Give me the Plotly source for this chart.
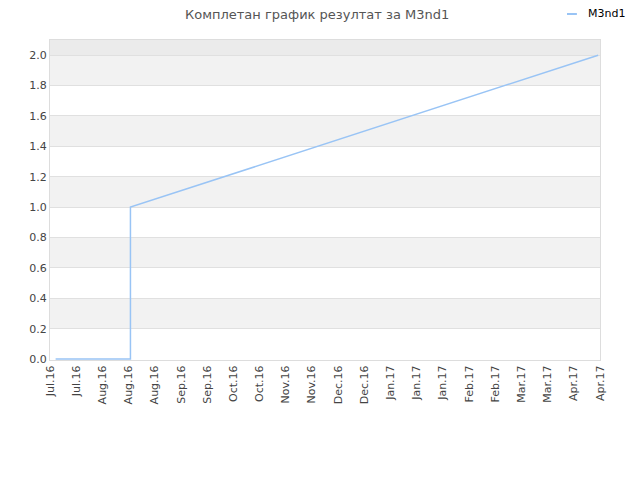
import plotly.graph_objects as go

# donnees
dates = ["2016-07-07", "2016-08-16", "2016-08-16", "2017-04-23"]
valeurs = [0, 0, 1.0, 2.0]

tick_dates = ["2016-07-04", "2016-07-18", "2016-08-01", "2016-08-15", "2016-08-29",
              "2016-09-12", "2016-09-26", "2016-10-10", "2016-10-24", "2016-11-07",
              "2016-11-21", "2016-12-05", "2016-12-19", "2017-01-02", "2017-01-16",
              "2017-01-30", "2017-02-13", "2017-02-27", "2017-03-13", "2017-03-27",
              "2017-04-10", "2017-04-24"]
tick_labels = ["Jul.16", "Jul.16", "Aug.16", "Aug.16", "Aug.16", "Sep.16", "Sep.16",
               "Oct.16", "Oct.16", "Nov.16", "Nov.16", "Dec.16", "Dec.16", "Jan.17",
               "Jan.17", "Jan.17", "Feb.17", "Feb.17", "Mar.17", "Mar.17", "Apr.17", "Apr.17"]

y_ticks = [0.0, 0.2, 0.4, 0.6, 0.8, 1.0, 1.2, 1.4, 1.6, 1.8, 2.0]

couleur = "#99c4f5"

fig = go.Figure()
fig.add_trace(go.Scatter(x=dates, y=valeurs, mode="lines", name="M3nd1",
                         line=dict(color=couleur, width=1.5), showlegend=False))

# bandes grises alternees
shapes = []
for i in range(len(y_ticks)):
    y0 = y_ticks[i]
    y1 = y_ticks[i + 1] if i + 1 < len(y_ticks) else 2.1
    if i % 2 == 1:
        col = "#f2f2f2"
    elif i == len(y_ticks) - 1:
        col = "#ebebeb"
    else:
        continue
    shapes.append(dict(type="rect", xref="paper", yref="y", x0=0, x1=1, y0=y0, y1=y1,
                       fillcolor=col, line=dict(width=0), layer="below"))

# petite legende en haut a droite
leg_y = 1 + 26 / 320
shapes.append(dict(type="line", xref="paper", yref="paper",
                   x0=0.94, x1=0.958, y0=leg_y, y1=leg_y,
                   line=dict(color=couleur, width=2)))

fig.update_layout(
    width=640, height=480,
    margin=dict(l=42, r=48, t=32, b=128),
    plot_bgcolor="white", paper_bgcolor="white",
    font=dict(family="DejaVu Sans", size=11, color="#444"),
    title=dict(text="Комплетан график резултат за M3nd1", x=0.483, xanchor="center",
               y=0.986, yanchor="middle", yref="container",
               font=dict(size=13, color="#555")),
    showlegend=False,
    shapes=shapes,
    annotations=[dict(text="M3nd1", xref="paper", yref="paper",
                      x=0.974, y=leg_y, xanchor="left", yanchor="middle",
                      showarrow=False, font=dict(size=11, color="#000"))],
)
fig.update_xaxes(type="date", range=["2016-07-04", "2017-04-24"],
                 tickvals=tick_dates, ticktext=tick_labels, tickangle=-90,
                 showgrid=False, showline=True, linecolor="#dddddd", mirror=True,
                 ticks="", zeroline=False, automargin=False)
fig.update_yaxes(range=[-0.006, 2.1], tickvals=y_ticks, tickformat=".1f",
                 showgrid=True, gridcolor="#e0e0e0", showline=True, linecolor="#dddddd",
                 mirror=True, zeroline=False, ticks="", automargin=False)

fig.write_html("out.html")
